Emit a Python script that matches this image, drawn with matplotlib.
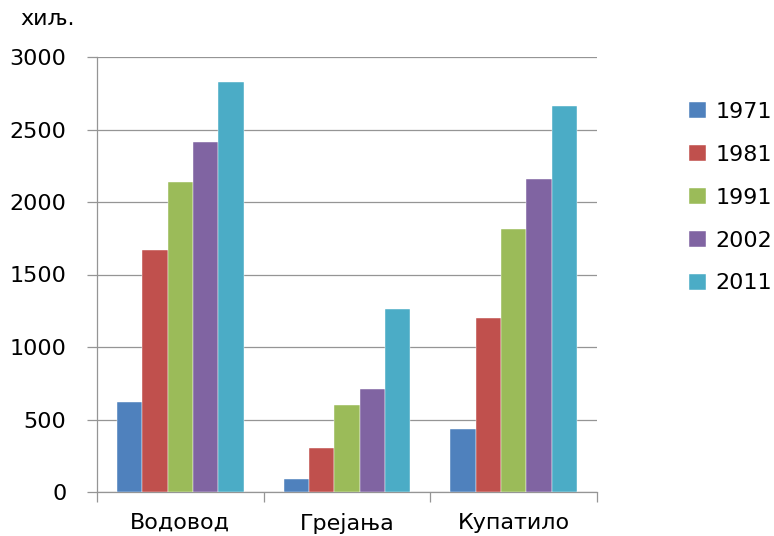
import matplotlib.pyplot as plt
import numpy as np

categories = ['Водовод', 'Грејања', 'Купатило']
years = ['1971', '1981', '1991', '2002', '2011']
v1971 = [620, 90, 435]
v1981 = [1670, 305, 1200]
v1991 = [2140, 600, 1815]
v2002 = [2415, 710, 2160]
v2011 = [2830, 1260, 2660]
series = [v1971, v1981, v1991, v2002, v2011]
colors = ['#4F81BD', '#C0504D', '#9BBB59', '#8064A2', '#4BACC6']

fs = 16
fig = plt.figure(figsize=(7.74, 5.36), dpi=100)
ax = fig.add_axes([97/774, 1 - 492/536, 500/774, 435/536])

x = np.arange(len(categories))
bw = 0.76 / 5
for i, vals in enumerate(series):
    ax.bar(x - 0.38 + bw*(i + 0.5), vals, width=bw, color=colors[i],
           edgecolor='white', linewidth=0.3, label=years[i], zorder=3)

ax.set_xlim(-0.5, 2.5)
ax.set_ylim(0, 3000)
ax.set_yticks(range(0, 3001, 500))
ax.yaxis.grid(True, color='#959595', linewidth=0.9, zorder=0)
ax.set_xticks(x)
ax.set_xticklabels(categories, fontsize=fs)
ax.set_xticks([-0.5, 0.5, 1.5, 2.5], minor=True)
ax.tick_params(axis='x', which='major', length=0, pad=15)
ax.tick_params(axis='x', which='minor', length=7, color='#959595', width=0.9)
ax.tick_params(axis='y', length=7, color='#959595', width=0.9, labelsize=fs, pad=15)
for s in ['top', 'right']:
    ax.spines[s].set_visible(False)
for s in ['left', 'bottom']:
    ax.spines[s].set_color('#959595')
    ax.spines[s].set_linewidth(0.9)

fig.text(20/774, 1 - 19/536, 'хиљ.', fontsize=fs, va='center', ha='left')

ax.legend(loc='upper left', bbox_to_anchor=(680/774, 1 - 93/536), bbox_transform=fig.transFigure,
          frameon=False, fontsize=fs, handlelength=0.75, handleheight=0.75,
          labelspacing=1.03, handletextpad=0.45, borderaxespad=0)

fig.savefig('out.png', dpi=100)
